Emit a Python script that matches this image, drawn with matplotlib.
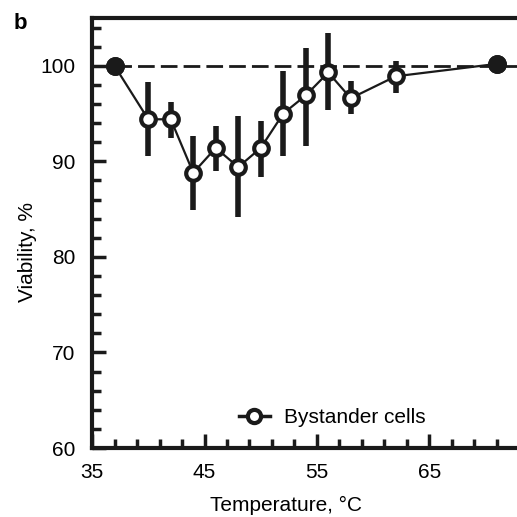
import matplotlib
matplotlib.use("Agg")
import matplotlib.pyplot as plt
import numpy as np

plt.rcParams['font.family'] = ['Liberation Sans', 'DejaVu Sans']

temperature = [37, 40, 42, 44, 46, 48, 50, 52, 54, 56, 58, 62, 71]
viability = [100.0, 94.4, 94.4, 88.8, 91.4, 89.4, 91.4, 95.0, 96.9, 99.3, 96.6, 98.9, 100.2]
err_low = [0.0, 3.8, 2.0, 3.9, 2.4, 5.2, 3.0, 4.4, 5.3, 3.9, 1.6, 1.7, 0.0]
err_high = [0.0, 3.9, 1.8, 3.8, 2.3, 5.3, 2.8, 4.5, 5.0, 4.1, 1.8, 1.6, 0.0]
reference_level = 100
series_label = "Bystander cells"

W = 517
fig = plt.figure(figsize=(5.17, 5.17), dpi=100)
ax = fig.add_axes([92/W, 1 - 448/W, 426/W, (448 - 18)/W])
ax.set_xlim(35, 35 + 426/11.25)
ax.set_ylim(60, 105)

ax.axhline(reference_level, color='#1a1a1a', lw=2.0, ls=(0, (6, 2.2)), zorder=1)

t = np.array(temperature)
v = np.array(viability)
ax.errorbar(t, v, yerr=[err_low, err_high], fmt='none', ecolor='#1a1a1a',
            elinewidth=4, capsize=0, zorder=2)
ax.plot(t, v, color='#1a1a1a', lw=1.6, zorder=3)
ax.plot(t, v, ls='none', marker='o', ms=10.5, mfc='white', mec='#1a1a1a', mew=3, zorder=4)
filled = (np.array(err_low) == 0)
ax.plot(t[filled], v[filled], ls='none', marker='o', ms=10.5, mfc='#1a1a1a',
        mec='#1a1a1a', mew=3, zorder=5)

legend_handle, = ax.plot([], [], color='#1a1a1a', lw=2.5, marker='o', ms=9.5,
                         mfc='white', mec='#1a1a1a', mew=3)
ax.legend([legend_handle], [series_label], loc='lower left', bbox_to_anchor=(0.30, 0.005),
          frameon=False, fontsize=15, handlelength=1.5, handletextpad=0.7)

ax.set_xticks([35, 45, 55, 65])
ax.set_xticks(np.arange(37, 73, 2), minor=True)
ax.set_yticks([60, 70, 80, 90, 100])
ax.set_yticks(np.arange(62, 105, 2), minor=True)
ax.tick_params(which='major', direction='in', length=10, width=2.5, labelsize=15,
               color='#1a1a1a')
ax.tick_params(which='minor', direction='in', length=6.5, width=2.5, color='#1a1a1a')
ax.tick_params(axis='x', which='major', pad=11)
ax.tick_params(axis='y', which='major', pad=12)

for s in ['left', 'bottom', 'top']:
    ax.spines[s].set_linewidth(3)
    ax.spines[s].set_color('#1a1a1a')
ax.spines['right'].set_visible(False)

ax.set_xlabel("Temperature, °C", fontsize=15)
ax.set_ylabel("Viability, %", fontsize=15)
ax.xaxis.set_label_coords((286 - 92) / 426, -(496 - 448) / 430)
ax.yaxis.set_label_coords(-(92 - 37) / 426, (448 - 252) / 430)

fig.text(14/W, 1 - 29/W, "b", fontsize=16, fontweight='bold')

fig.savefig("out.png", dpi=100)
